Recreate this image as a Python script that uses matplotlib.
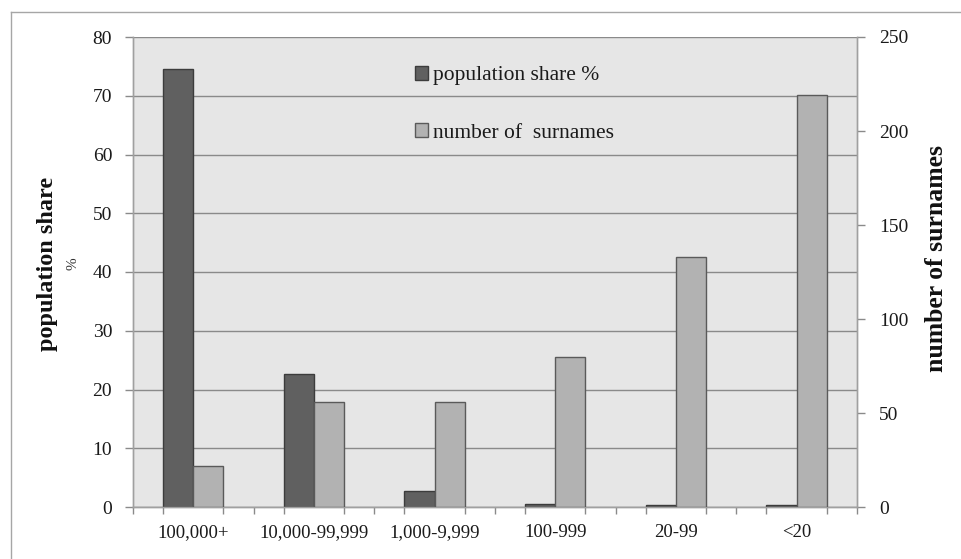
import matplotlib
matplotlib.use("Agg")
import matplotlib.pyplot as plt
from matplotlib.lines import Line2D
import numpy as np

categories = ["100,000+", "10,000-99,999", "1,000-9,999", "100-999", "20-99", "<20"]
population_share = [74.5, 22.7, 2.7, 0.5, 0.3, 0.3]
num_surnames = [22, 56, 56, 80, 133, 219]
left_ticks = [0, 10, 20, 30, 40, 50, 60, 70, 80]
right_ticks = [0, 50, 100, 150, 200, 250]

plt.rcParams['font.family'] = ['Liberation Serif', 'DejaVu Serif']

W, H = 962, 559
fig = plt.figure(figsize=(W / 100, H / 100), dpi=100)
fig.patch.set_facecolor("white")

# outer frame (only left and top edges are visible in the reference)
fig.lines.append(Line2D([10.5 / W, 10.5 / W], [0, 1 - 11.5 / H], transform=fig.transFigure,
                        color="#a6a6a6", linewidth=1.0))
fig.lines.append(Line2D([10.5 / W, 1], [1 - 11.5 / H, 1 - 11.5 / H], transform=fig.transFigure,
                        color="#a6a6a6", linewidth=1.0))

l, r, t, b = 133, 857, 37, 507
ax = fig.add_axes([l / W, 1 - b / H, (r - l) / W, (b - t) / H])
ax.set_facecolor("#e6e6e6")
ax2 = ax.twinx()

x = np.arange(len(categories))
bw = 0.25
dark = "#606060"
light = "#b2b2b2"
ax.bar(x - bw / 2, population_share, width=bw, color=dark, edgecolor="#3c3c3c", linewidth=1.0,
       zorder=3, label="population share %")
ax2.bar(x + bw / 2, num_surnames, width=bw, color=light, edgecolor="#5a5a5a", linewidth=1.0,
        zorder=3, label="number of  surnames")

ax.set_xlim(-0.5, len(categories) - 0.5)
ax.set_ylim(0, 80)
ax2.set_ylim(0, 250)
ax.set_yticks(left_ticks)
ax2.set_yticks(right_ticks)
ax.yaxis.grid(True, color="#8a8a8a", linewidth=1.0, zorder=0)
ax.set_axisbelow(True)

ax.set_xticks(x)
ax.set_xticklabels(categories)
ax.set_xticks(np.arange(-0.5, len(categories) - 0.5 + 0.01, 0.25), minor=True)
ax.tick_params(axis="x", which="major", length=0, pad=12, labelsize=13.5, labelcolor="#1a1a1a")
ax.tick_params(axis="x", which="minor", length=5, color="#8a8a8a", width=1.0)
ax.tick_params(axis="y", length=6, color="#8a8a8a", width=1.0, labelsize=14, pad=9, labelcolor="#1a1a1a")
ax2.tick_params(axis="y", length=6, color="#8a8a8a", width=1.0, labelsize=14, pad=10, labelcolor="#1a1a1a")

for a in (ax, ax2):
    a.spines["top"].set_visible(False)
    for s in ("left", "right", "bottom"):
        a.spines[s].set_color("#a0a0a0")
        a.spines[s].set_linewidth(1.0)

# axis labels
fig.text(48 / W, 1 - 264 / H, "population share", rotation=90, ha="center", va="center",
         fontsize=17.5, fontweight="bold", color="#111111")
fig.text(73 / W, 1 - 264 / H, "%", rotation=90, ha="center", va="center",
         fontsize=11, color="#333333")
fig.text(937 / W, 1 - 258 / H, "number of surnames", rotation=90, ha="center", va="center",
         fontsize=18.5, fontweight="bold", color="#111111")

h1, l1 = ax.get_legend_handles_labels()
h2, l2 = ax2.get_legend_handles_labels()
leg = ax2.legend(h1 + h2, l1 + l2, loc="upper left", bbox_to_anchor=(415 / W, 1 - 66 / H),
                 bbox_transform=fig.transFigure, frameon=False, borderpad=0, borderaxespad=0,
                 handlelength=0.6, handleheight=0.6, handletextpad=0.25,
                 labelspacing=1.75, fontsize=15.5)
for txt in leg.get_texts():
    txt.set_color("#1a1a1a")

fig.savefig("out.png", dpi=100)
